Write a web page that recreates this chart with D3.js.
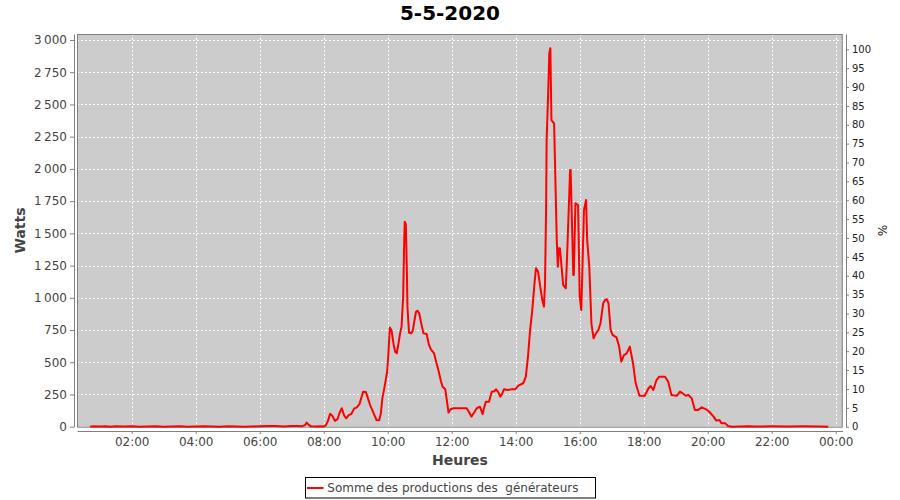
<!DOCTYPE html>
<html>
<head>
<meta charset="utf-8">
<script src="https://cdn.jsdelivr.net/npm/d3@7"></script>
<style>
  html, body { margin: 0; padding: 0; background: #fff; }
  svg { display: block; font-family: "DejaVu Sans", sans-serif; }
</style>
</head>
<body>
<svg id="chart" width="900" height="500"></svg>
<script>
// ---- Data ----
const chartTitle = "5-5-2020";
const seriesName = "Somme des productions des  générateurs";
const yLeftLabel = "Watts";
const yRightLabel = "%";
const xLabel = "Heures";

const times = [
  "00:42","00:50","01:00","01:10","01:20","01:30","01:45","02:00","02:15","02:30","02:45","03:00",
  "03:15","03:30","03:45","04:00","04:15","04:30","04:45","05:00","05:15","05:30","05:45","06:00",
  "06:15","06:30","06:45","07:00","07:10","07:20","07:25","07:28","07:32","07:36","07:45","07:55",
  "08:00","08:04","08:08","08:12","08:16","08:21","08:26","08:30","08:34","08:38","08:42","08:47",
  "08:52","08:57","09:02","09:07","09:11","09:14","09:19","09:23","09:27","09:31","09:35","09:39",
  "09:44","09:47","09:50","09:55","09:59","10:01","10:04","10:07","10:11","10:14","10:17","10:20",
  "10:23","10:26","10:29","10:31","10:32","10:34","10:36","10:37","10:40","10:44","10:47","10:50","10:53",
  "10:56","10:59","11:03","11:07","11:13","11:17","11:21","11:27","11:31","11:35","11:40","11:43",
  "11:48","11:51","11:54","11:58","12:03","12:16","12:28","12:33","12:37","12:42","12:47","12:53",
  "12:58","13:01","13:04","13:10","13:15","13:20","13:23","13:27","13:31","13:35","13:38","13:45",
  "13:52","13:59","14:05","14:14","14:19","14:23","14:27","14:31","14:35","14:38","14:42","14:46",
  "14:50","14:53","14:55","14:57","14:58","15:01","15:03","15:05","15:07","15:12","15:17","15:19",
  "15:21","15:23","15:26","15:29","15:34","15:37","15:42","15:43","15:48","15:49","15:52","15:57",
  "16:00","16:03","16:08","16:12","16:14","16:18","16:22","16:26","16:30","16:35","16:39","16:44",
  "16:48","16:51","16:54","16:58","17:02","17:09","17:14","17:18","17:23","17:28","17:34","17:40",
  "17:45","17:52","18:02","18:09","18:13","18:18","18:24","18:29","18:40","18:46","18:52","19:02",
  "19:08","19:13","19:19","19:24","19:30","19:36","19:42","19:49","19:57","20:03","20:11","20:16",
  "20:22","20:26","20:33","20:38","20:45","21:00","21:15","21:30","22:00","22:30","23:00","23:30",
  "23:46"
];
const watts = [
  0,3,2,3,0,3,2,3,0,2,3,0,
  2,3,0,2,3,2,0,3,2,0,2,3,
  5,5,2,5,6,4,12,32,14,3,2,3,
  2,10,45,100,85,45,60,110,143,90,65,90,
  100,140,150,175,230,272,270,220,168,130,90,52,
  50,100,220,330,430,543,770,750,640,582,570,640,
  720,776,1008,1450,1590,1570,1200,931,730,724,745,820,892,
  900,880,800,724,720,640,600,569,500,440,350,310,
  290,200,110,135,143,143,143,110,78,110,143,155,
  98,150,194,194,272,275,290,270,233,260,290,285,
  290,290,318,337,388,543,750,900,1100,1229,1203,1086,
  980,931,1115,1700,2224,2600,2897,2936,2379,2354,1448,1241,
  1384,1384,1241,1099,1074,1396,1991,1991,1177,1177,1733,1720,
  1008,905,1681,1759,1448,1241,800,686,720,750,802,957,
  985,988,957,750,711,693,621,504,556,569,621,492,
  337,240,240,298,316,285,362,388,388,349,246,240,
  272,259,240,246,220,130,130,150,135,116,78,47,
  52,26,26,5,0,2,3,2,3,2,3,2,
  0
];
const leftTicks = [0,250,500,750,1000,1250,1500,1750,2000,2250,2500,2750,3000];
const rightTicks = [0,5,10,15,20,25,30,35,40,45,50,55,60,65,70,75,80,85,90,95,100];
const xTickHours = [2,4,6,8,10,12,14,16,18,20,22,24];

// ---- Layout ----
const plot = { left: 77, top: 34, right: 842.7, bottom: 426.7 };
const parseT = s => { const [h, m] = s.split(":").map(Number); return new Date(2020, 4, 5, h, m); };
const data = times.map((t, i) => ({ t: parseT(t), v: watts[i] }));

const x = d3.scaleTime()
  .domain([new Date(2020, 4, 5, 0, 17, 26), new Date(2020, 4, 6, 0, 13, 8)])
  .range([plot.left, plot.right]);
const yL = d3.scaleLinear().domain([0, 3046.5]).range([plot.bottom, plot.top]);
const yR = d3.scaleLinear().domain([0, 104.05]).range([plot.bottom, plot.top]);

const svg = d3.select("#chart");
svg.append("rect").attr("width", 900).attr("height", 500).attr("fill", "#fff");

// plot background
svg.append("rect")
  .attr("x", plot.left).attr("y", plot.top)
  .attr("width", plot.right - plot.left).attr("height", plot.bottom - plot.top)
  .attr("fill", "#cccccc");

const xTickDates = xTickHours.map(h => new Date(2020, 4, 5, h, 0));

// gridlines
const grid = svg.append("g").attr("stroke", "#ffffff").attr("stroke-width", 1)
  .attr("stroke-dasharray", "2,2").attr("shape-rendering", "crispEdges");
grid.selectAll("line.v").data(xTickDates).join("line")
  .attr("x1", d => Math.round(x(d)) + 0.5).attr("x2", d => Math.round(x(d)) + 0.5)
  .attr("y1", plot.top).attr("y2", plot.bottom);
grid.selectAll("line.h").data(leftTicks).join("line")
  .attr("x1", plot.left).attr("x2", plot.right)
  .attr("y1", d => Math.round(yL(d)) + 0.5).attr("y2", d => Math.round(yL(d)) + 0.5);

// plot outline
svg.append("rect")
  .attr("x", plot.left + 0.5).attr("y", plot.top + 0.5)
  .attr("width", plot.right - plot.left - 1).attr("height", plot.bottom - plot.top)
  .attr("fill", "none").attr("stroke", "#808080").attr("stroke-width", 1);

// series line
const line = d3.line().x(d => x(d.t)).y(d => yL(d.v));
svg.append("path").datum(data)
  .attr("d", line)
  .attr("fill", "none").attr("stroke", "#ff0000").attr("stroke-width", 2)
  .attr("stroke-linejoin", "round");

// axes
const fr = d3.formatLocale({ decimal: ",", thousands: "\u2009", grouping: [3], currency: ["", "€"] });
const fmtL = fr.format(",d");

const axL = svg.append("g").attr("transform", "translate(74,0)")
  .call(d3.axisLeft(yL).tickValues(leftTicks).tickFormat(fmtL).tickSize(4).tickSizeOuter(0).tickPadding(3));
const axR = svg.append("g").attr("transform", "translate(846,0)")
  .call(d3.axisRight(yR).tickValues(rightTicks).tickSize(3).tickSizeOuter(0).tickPadding(3));
const axB = svg.append("g").attr("transform", "translate(0,431)")
  .call(d3.axisBottom(x).tickValues(xTickDates).tickFormat(d3.timeFormat("%H:%M")).tickSize(3).tickSizeOuter(0).tickPadding(3.5));

[axL, axB].forEach(a => {
  a.selectAll("text").attr("font-family", "DejaVu Sans").attr("font-size", 12).attr("fill", "#444");
});
axR.selectAll("text").attr("font-family", "DejaVu Sans").attr("font-size", 10).attr("fill", "#222");
[axL, axR, axB].forEach(a => {
  a.select(".domain").attr("stroke", "#808080");
  a.selectAll(".tick line").attr("stroke", "#808080");
});

// titles
svg.append("text").attr("x", 450).attr("y", 20).attr("text-anchor", "middle")
  .attr("font-size", 20).attr("font-weight", "bold").attr("fill", "#000").text(chartTitle);
svg.append("text").attr("transform", "translate(25,230.5) rotate(-90)").attr("text-anchor", "middle")
  .attr("font-size", 14).attr("font-weight", "bold").attr("fill", "#444").text(yLeftLabel);
svg.append("text").attr("transform", "translate(878,230.5) rotate(90)").attr("text-anchor", "middle")
  .attr("font-size", 12).attr("fill", "#222").text(yRightLabel);
svg.append("text").attr("x", 460).attr("y", 465).attr("text-anchor", "middle")
  .attr("font-size", 14).attr("font-weight", "bold").attr("fill", "#444").text(xLabel);

// legend
const lg = svg.append("g");
lg.append("rect").attr("x", 305.5).attr("y", 477.5).attr("width", 290).attr("height", 20.5)
  .attr("fill", "#fff").attr("stroke", "#000").attr("stroke-width", 1);
lg.append("line").attr("x1", 307).attr("x2", 323.5).attr("y1", 488).attr("y2", 488)
  .attr("stroke", "#ff0000").attr("stroke-width", 2);
lg.append("text").attr("x", 327.3).attr("y", 492.3).attr("font-size", 12).attr("fill", "#444")
  .attr("xml:space", "preserve").style("white-space", "pre").text(seriesName);
</script>
</body>
</html>
